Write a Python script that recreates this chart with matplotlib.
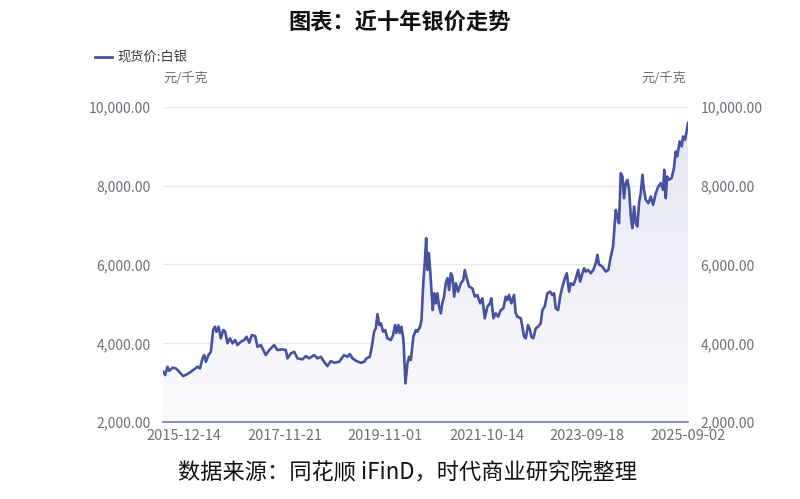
import matplotlib
matplotlib.use('Agg')
import matplotlib.pyplot as plt
import matplotlib.dates as mdates
from matplotlib.colors import LinearSegmentedColormap
from matplotlib.lines import Line2D
from matplotlib.ticker import FuncFormatter
import numpy as np
import pandas as pd

plt.rcParams['font.family'] = ['Noto Sans CJK SC', 'DejaVu Sans']

# 现货价:白银 (元/千克)
dates = [
    '2015-07-19', '2015-08-02', '2015-08-18', '2015-08-30', '2015-09-23', '2015-10-17',
    '2015-11-09', '2015-12-07', '2016-01-06', '2016-01-30', '2016-02-22', '2016-03-17',
    '2016-04-03', '2016-04-21', '2016-05-03', '2016-05-15', '2016-06-02', '2016-06-19',
    '2016-07-05', '2016-07-17', '2016-07-28', '2016-08-12', '2016-08-28', '2016-09-14',
    '2016-09-28', '2016-10-14', '2016-10-31', '2016-11-18', '2016-12-07', '2016-12-23',
    '2017-01-16', '2017-02-09', '2017-02-25', '2017-03-16', '2017-04-04', '2017-04-27',
    '2017-05-13', '2017-06-06', '2017-07-11', '2017-08-04', '2017-09-08', '2017-10-01',
    '2017-11-05', '2017-11-29', '2017-12-11', '2018-01-04', '2018-01-27', '2018-02-19',
    '2018-03-26', '2018-04-19', '2018-05-12', '2018-06-17', '2018-07-10', '2018-08-03',
    '2018-08-26', '2018-09-18', '2018-10-12', '2018-11-05', '2018-12-10', '2019-01-14',
    '2019-02-06', '2019-02-23', '2019-03-14', '2019-04-11', '2019-05-12', '2019-06-04',
    '2019-06-20', '2019-07-14', '2019-07-28', '2019-08-13', '2019-08-25', '2019-09-06',
    '2019-09-18', '2019-09-30', '2019-10-16', '2019-10-30', '2019-11-15', '2019-12-09',
    '2019-12-25', '2020-01-08', '2020-01-17', '2020-01-31', '2020-02-10', '2020-02-22',
    '2020-03-07', '2020-03-21', '2020-04-04', '2020-04-16', '2020-04-28', '2020-05-16',
    '2020-06-02', '2020-06-13', '2020-07-02', '2020-07-12', '2020-07-26', '2020-08-04',
    '2020-08-14', '2020-08-23', '2020-09-02', '2020-09-11', '2020-09-20', '2020-09-30',
    '2020-10-09', '2020-10-21', '2020-11-01', '2020-11-13', '2020-11-25', '2020-12-06',
    '2020-12-18', '2020-12-30', '2021-01-11', '2021-01-23', '2021-02-04', '2021-02-15',
    '2021-02-27', '2021-03-11', '2021-03-27', '2021-04-15', '2021-05-03', '2021-05-13',
    '2021-05-27', '2021-06-13', '2021-07-06', '2021-07-23', '2021-08-10', '2021-08-29',
    '2021-09-14', '2021-10-01', '2021-10-19', '2021-11-07', '2021-11-16', '2021-12-01',
    '2021-12-17', '2022-01-03', '2022-01-22', '2022-02-09', '2022-02-26', '2022-03-09',
    '2022-03-21', '2022-04-06', '2022-04-25', '2022-05-07', '2022-05-19', '2022-06-12',
    '2022-06-23', '2022-07-05', '2022-07-17', '2022-08-02', '2022-08-16', '2022-08-25',
    '2022-09-08', '2022-09-25', '2022-10-11', '2022-10-30', '2022-11-11', '2022-11-27',
    '2022-12-16', '2023-01-04', '2023-01-20', '2023-02-01', '2023-02-13', '2023-03-02',
    '2023-03-16', '2023-04-01', '2023-04-18', '2023-05-02', '2023-05-18', '2023-05-30',
    '2023-06-18', '2023-07-05', '2023-07-21', '2023-08-04', '2023-08-20', '2023-09-01',
    '2023-09-13', '2023-09-29', '2023-10-18', '2023-11-05', '2023-11-22', '2023-12-04',
    '2023-12-15', '2024-01-08', '2024-01-31', '2024-02-19', '2024-03-07', '2024-03-23',
    '2024-04-11', '2024-04-22', '2024-05-04', '2024-05-16', '2024-05-28', '2024-06-08',
    '2024-06-20', '2024-07-02', '2024-07-14', '2024-07-26', '2024-08-06', '2024-08-18',
    '2024-08-30', '2024-09-10', '2024-09-22', '2024-10-04', '2024-10-16', '2024-10-27',
    '2024-11-08', '2024-11-27', '2024-12-14', '2024-12-30', '2025-01-18', '2025-02-05',
    '2025-02-22', '2025-03-10', '2025-03-19', '2025-03-29', '2025-04-08', '2025-04-20',
    '2025-05-09', '2025-05-26', '2025-06-07', '2025-06-18', '2025-07-05', '2025-07-20',
    '2025-07-29', '2025-08-12', '2025-08-21', '2025-09-02',
]
prices = [
    3278, 3194, 3405, 3303, 3380, 3364,
    3278, 3168, 3219, 3278, 3339, 3405,
    3364, 3618, 3702, 3532, 3702, 3786,
    4337, 4421, 4294, 4421, 4126, 4337,
    4294, 4000, 4126, 4000, 4083, 3956,
    4040, 4083, 4167, 4014, 4210, 4184,
    3913, 3956, 3702, 3829, 3956, 3829,
    3846, 3829, 3618, 3745, 3786, 3618,
    3593, 3676, 3618, 3702, 3618, 3659,
    3532, 3422, 3549, 3506, 3532, 3702,
    3659, 3727, 3618, 3549, 3506, 3532,
    3618, 3659, 3913, 4294, 4379, 4743,
    4464, 4506, 4294, 4337, 4126, 4083,
    4210, 4464, 4260, 4464, 4260, 4421,
    4083, 2983, 3491, 3659, 3575, 4167,
    4337, 4294, 4421, 4591, 5607, 6031,
    6666, 5861, 6286, 5861, 5353, 4845,
    5269, 5015, 5269, 4930, 4761, 5015,
    5184, 5523, 5650, 5353, 5777, 5692,
    5184, 5523, 5311, 5523, 5607, 5861,
    5650, 5438, 5396, 5184, 5226, 5015,
    5142, 4634, 4930, 5015, 5142, 4634,
    4761, 4675, 4845, 4888, 5184, 5099,
    5226, 5015, 5226, 4761, 4675, 4634,
    4421, 4167, 4126, 4464, 4337, 4167,
    4126, 4379, 4421, 4506, 4845, 4930,
    5269, 5311, 5226, 5269, 4888, 4845,
    5184, 5438, 5650, 5777, 5311, 5523,
    5481, 5650, 5861, 5565, 5777, 5904,
    5819, 5861, 5777, 5861, 6031, 6242,
    6000, 5946, 5819, 5861, 6200, 6454,
    7385, 7215, 7046, 8316, 8232, 7682,
    8062, 8147, 7893, 7215, 6921, 7470,
    7046, 6962, 7555, 7809, 8274, 7893,
    7639, 7555, 7724, 7512, 7809, 7978,
    8062, 7893, 8401, 7682, 8232, 8147,
    8189, 8443, 8866, 8740, 9121, 8994,
    9248, 9163, 9332, 9586,
]

tick_dates = ['2015-12-14', '2017-11-21', '2019-11-01', '2021-10-14', '2023-09-18', '2025-09-02']
y_ticks = [2000, 4000, 6000, 8000, 10000]

line_color = '#4652a0'
label_color = '#6e7079'

fig = plt.figure(figsize=(8, 4.99), dpi=100)
ax = fig.add_axes([0.204, 0.154, 0.656, 0.632])

x = mdates.date2num(pd.to_datetime(dates))

# gradient area under the line
poly = ax.fill_between(x, prices, 2000, color='none', lw=0)
cmap = LinearSegmentedColormap.from_list('area', ['#fbfbfd', '#e3e5f2'])
grad = np.linspace(0, 1, 256).reshape(-1, 1)
im = ax.imshow(grad, extent=[x[0], x[-1], 2000, 10000], origin='lower',
               aspect='auto', cmap=cmap, zorder=1)
im.set_clip_path(poly.get_paths()[0], transform=ax.transData)

ax.plot(x, prices, color=line_color, lw=1.9, zorder=3, solid_joinstyle='round')

ax.set_xlim(x[0], x[-1])
ax.set_ylim(2000, 10000)
ax.set_yticks(y_ticks)
ax.yaxis.set_major_formatter(FuncFormatter(lambda v, p: f'{v:,.2f}'))
ax.tick_params(axis='y', length=0, pad=9, labelsize=10, labelcolor=label_color,
               labelleft=True, labelright=True)
ax.set_xticks(mdates.date2num(pd.to_datetime(tick_dates)))
ax.set_xticklabels(tick_dates)
ax.tick_params(axis='x', length=0, pad=5, labelsize=10.5, labelcolor=label_color)

ax.grid(axis='y', color='#e6e9f2', lw=1)
ax.set_axisbelow(True)
for s in ['top', 'left', 'right']:
    ax.spines[s].set_visible(False)
ax.spines['bottom'].set_color('#6e7ab0')
ax.spines['bottom'].set_linewidth(1.2)
ax.spines['bottom'].set_zorder(4)

fig.text(0.5, 1 - 22 / 499, '图表：近十年银价走势', ha='center', va='center',
         fontsize=16, fontweight='bold', color='#111111')

fig.add_artist(Line2D([95 / 800, 112 / 800], [1 - 57 / 499] * 2, color=line_color, lw=2))
fig.text(117 / 800, 1 - 57 / 499, '现货价:白银', ha='left', va='center',
         fontsize=9.5, color='#3a3a3a')
fig.text(186 / 800, 1 - 79 / 499, '元/千克', ha='center', va='center',
         fontsize=9.5, color=label_color)
fig.text(664 / 800, 1 - 79 / 499, '元/千克', ha='center', va='center',
         fontsize=9.5, color=label_color)

fig.text(408 / 800, 1 - 473 / 499, '数据来源：同花顺 iFinD，时代商业研究院整理',
         ha='center', va='center', fontsize=16, color='#111111')

fig.savefig('out.png', dpi=100)
